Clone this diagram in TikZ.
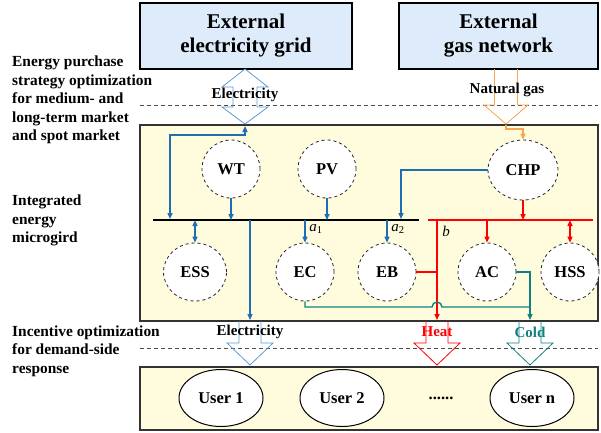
\documentclass[tikz,border=0pt]{standalone}
\usepackage{fontspec}
\setmainfont{Liberation Serif}
\usepackage{xcolor}
\usetikzlibrary{arrows.meta,shapes.geometric}

\definecolor{boxblue}{RGB}{221,235,250}
\definecolor{gridyellow}{RGB}{255,252,222}
\definecolor{elecblue}{RGB}{31,110,180}
\definecolor{hollowblue}{RGB}{91,155,213}
\definecolor{gasorange}{RGB}{247,165,80}
\definecolor{coldteal}{RGB}{16,128,128}

\begin{document}
\begin{tikzpicture}[x=1pt,y=-1pt,>={Triangle[length=6pt,width=5pt]},
  ext/.style={rectangle,draw,line width=1.2pt,fill=boxblue,align=center,inner sep=0pt,font=\fontsize{21}{24}\selectfont\bfseries},
  side/.style={anchor=west,align=left,inner sep=0pt,font=\fontsize{15.4}{18.5}\selectfont\bfseries},
  flow/.style={inner sep=0pt,font=\fontsize{15}{17}\selectfont\bfseries},
  dev/.style={circle,draw=black!85,dashed,line width=0.8pt,fill=white,minimum size=58pt,inner sep=0pt,font=\fontsize{16.5}{18}\selectfont\bfseries},
  user/.style={ellipse,draw,line width=1pt,fill=white,minimum width=84pt,minimum height=57pt,inner sep=0pt,font=\fontsize{16.5}{18}\selectfont\bfseries},
  sepline/.style={draw=black!70,line width=0.8pt,dash pattern=on 4pt off 3pt},
  elec/.style={draw=elecblue,line width=1.4pt},
  heat/.style={draw=red,line width=1.4pt},
  cold/.style={draw=coldteal,line width=1.4pt},
  gas/.style={draw=gasorange,line width=1.4pt}]
\useasboundingbox (0,0) rectangle (601,432);

% external supply
\node[ext,minimum width=212pt,minimum height=66pt] (grid) at (246,36) {External\\electricity grid};
\node[ext,minimum width=199pt,minimum height=66pt] (gasnet) at (498.5,36) {External\\gas network};

% side texts
\node[side] (purchase) at (12,100) {Energy purchase\\strategy optimization\\for medium- and\\long-term market\\and spot market};
\node[side] (iem) at (12,220.5) {Integrated\\energy\\microgird};
\node[side] (incentive) at (12,351) {Incentive optimization\\for demand-side\\response};

% dashed separators
\draw[sepline] (140,105) -- (598,105);
\draw[sepline] (140,348) -- (598,348);

% areas
\draw[line width=1.2pt,draw=black!80,fill=gridyellow] (140,125) rectangle (598,321);
\draw[line width=1.2pt,draw=black!80,fill=gridyellow] (140,367) rectangle (598,430);

% hollow arrows
\draw[hollowblue,line width=0.8pt] (245,69) -- (268,87) -- (257,87) -- (257,107) -- (268,107) -- (245,124) -- (222,107) -- (233,107) -- (233,87) -- (222,87) -- cycle;
\draw[gasorange,line width=0.8pt] (494.5,69) -- (494.5,105) -- (484,105) -- (506,124) -- (528,105) -- (517.5,105) -- (517.5,69);
\draw[hollowblue,line width=0.8pt] (239,321) -- (239,343) -- (227,343) -- (250,365) -- (273,343) -- (261,343) -- (261,321);
\draw[red,line width=0.8pt] (426,321) -- (426,343) -- (414,343) -- (437,365) -- (460,343) -- (448,343) -- (448,321);
\draw[coldteal,line width=0.8pt] (519,321) -- (519,343) -- (507,343) -- (530,365) -- (553,343) -- (541,343) -- (541,321);

\node[flow] (elecin) at (245,95) {Electricity};
\node[flow] (gaslabel) at (507,90) {Natural gas};
\node[flow] (elecout) at (250,332) {Electricity};
\node[flow,text=red] (heatout) at (437,332) {Heat};
\node[flow,text=coldteal] (coldout) at (530,332) {Cold};

% buses
\draw[line width=2.5pt] (153,220) coordinate (ebusW) -- (419,220) coordinate (ebusE);
\draw[red,line width=1.5pt] (428,220) coordinate (hbusW) -- (593,220) coordinate (hbusE);

% devices
\node[dev] (WT) at (231,169) {WT};
\node[dev] (PV) at (327,169) {PV};
\node[dev,ellipse,minimum width=70pt,minimum height=60pt] (CHP) at (523,170) {CHP};
\node[dev,ellipse,minimum width=63pt,minimum height=58pt] (ESS) at (195,272) {ESS};
\node[dev] (EC) at (305,272) {EC};
\node[dev] (EB) at (387,272) {EB};
\node[dev] (AC) at (487,272) {AC};
\node[dev] (HSS) at (570,272) {HSS};

% users
\node[user] (user1) at (221,398) {User 1};
\node[user] (user2) at (342,398) {User 2};
\node[flow,font=\fontsize{16.5}{18}\selectfont\bfseries] (dots) at (441,398) {......};
\node[user] (usern) at (532,398) {User n};

% electricity
\coordinate (gridin) at (245,126);
\coordinate (eIn) at (170,219);
\coordinate (eChp) at (401,219);
\coordinate (eOut) at (250,320);
\draw[elec,<->] (gridin) -- ++(0,9) -| (eIn);
\draw[elec,->] (WT) -- (WT |- ebusW);
\draw[elec,->] (PV) -- (PV |- ebusW);
\draw[elec,->] (CHP.west) -| (eChp);
\draw[elec,<->] (ESS) -- (ESS |- ebusW);
\draw[elec,->] (eOut |- ebusW) -- (eOut);
\draw[elec,->] (EC |- ebusW) -- (EC);
\draw[elec,->] (EB |- ebusW) -- (EB);
\node[inner sep=0pt,font=\fontsize{15}{17}\selectfont] (a1) at (316,229) {\textit{a}\textsubscript{1}};
\node[inner sep=0pt,font=\fontsize{15}{17}\selectfont] (a2) at (398,229) {\textit{a}\textsubscript{2}};

% gas
\coordinate (gasin) at (506,125);
\draw[gas,->] (gasin) -- ++(0,4) -| (CHP.north);

% heat
\coordinate (hOut) at (437,320);
\draw[heat,->] (CHP) -- (CHP |- hbusW);
\draw[heat,->] (AC |- hbusW) -- (AC);
\draw[heat,<->] (HSS |- hbusW) -- (HSS);
\draw[heat,->] (hOut |- hbusW) -- (hOut);
\draw[heat] (EB.east) -- (EB.east -| hOut);
\node[inner sep=0pt,font=\fontsize{15}{17}\selectfont\itshape] (blabel) at (446,231) {b};

% cold
\coordinate (cOut) at (530,320);
\coordinate (cJoin) at (530,307);
\draw[cold,->] (AC.east) -| (cOut);
\draw[cold] (EC.south) |- (432,307) arc[start angle=180,end angle=360,radius=5] -- (cJoin);
\end{tikzpicture}
\end{document}
